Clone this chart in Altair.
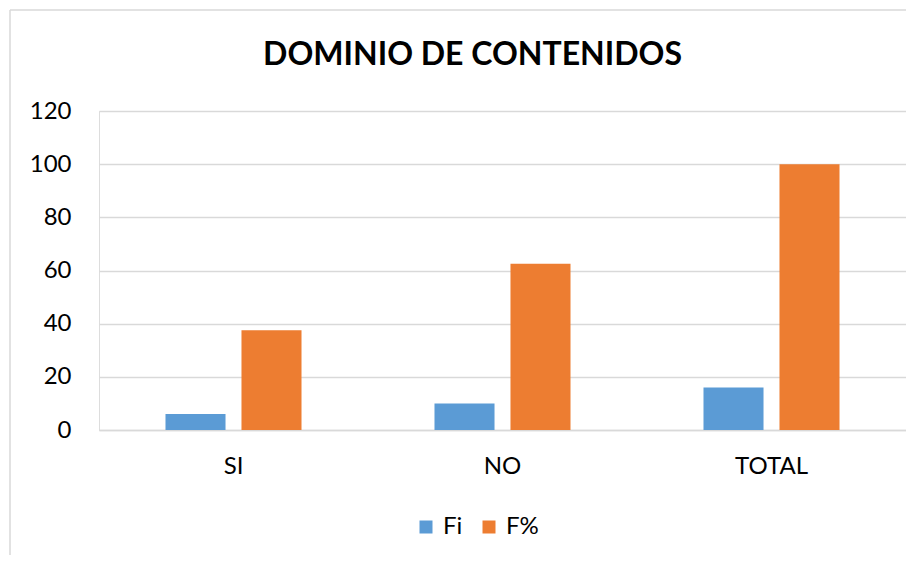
import altair as alt
import pandas as pd

categories = ["SI", "NO", "TOTAL"]
fi_values = [6, 10, 16]
fpct_values = [37.5, 62.5, 100]
series = ["Fi", "F%"]
colors = ["#5B9BD5", "#ED7D31"]
y_ticks = [0, 20, 40, 60, 80, 100, 120]

rows = []
for c, a, b in zip(categories, fi_values, fpct_values):
    rows.append({"cat": c, "serie": "Fi", "valor": a})
    rows.append({"cat": c, "serie": "F%", "valor": b})
df = pd.DataFrame(rows)

FONT = "Lato"

bars = alt.Chart(df).mark_bar().encode(
    x=alt.X("cat:N", sort=categories, title=None,
            scale=alt.Scale(paddingInner=0, paddingOuter=0),
            axis=alt.Axis(labelAngle=0, ticks=False, domain=True, domainColor="#D9D9D9",
                          domainWidth=1.5, labelFontSize=24, labelFont=FONT,
                          labelColor="#000000", labelPadding=24)),
    xOffset=alt.XOffset("serie:N", sort=series,
                        scale=alt.Scale(paddingInner=0.21, paddingOuter=0.875)),
    y=alt.Y("valor:Q", title=None,
            scale=alt.Scale(domain=[0, 120], nice=False),
            axis=alt.Axis(values=y_ticks, ticks=False, domain=False, grid=True,
                          gridColor="#D9D9D9", gridWidth=1.5, labelFontSize=24,
                          labelFont=FONT, labelColor="#000000", labelPadding=28)),
    color=alt.Color("serie:N", sort=series,
                    scale=alt.Scale(domain=series, range=colors),
                    legend=alt.Legend(title=None, orient="none", direction="horizontal",
                                      legendX=315, legendY=404, symbolType="square",
                                      symbolSize=169, symbolStrokeWidth=0,
                                      labelFontSize=24, labelFont=FONT,
                                      labelColor="#000000", columnPadding=14,
                                      labelOffset=5)),
)

frame_df = pd.DataFrame({"k": [0]})
left_border = alt.Chart(frame_df).mark_rule(color="#D9D9D9", strokeWidth=1.5).encode(
    x=alt.value(-89), y=alt.value(-101), y2=alt.value(460))
top_border = alt.Chart(frame_df).mark_rule(color="#D9D9D9", strokeWidth=1.5).encode(
    x=alt.value(-89), x2=alt.value(830), y=alt.value(-101))

chart = alt.layer(left_border, top_border, bars).properties(
    width=807, height=319,
    title=alt.TitleParams("DOMINIO DE CONTENIDOS", fontSize=32, font=FONT,
                          fontWeight="bold", color="#000000", anchor="middle",
                          dx=-30, offset=-63),
    padding={"left": 91, "top": 103, "right": 0, "bottom": 125},
    autosize=alt.AutoSizeParams(type="none"),
).configure_view(stroke=None).configure(background="white")

chart.save("out.html", embed_options={"renderer": "svg", "actions": False})
